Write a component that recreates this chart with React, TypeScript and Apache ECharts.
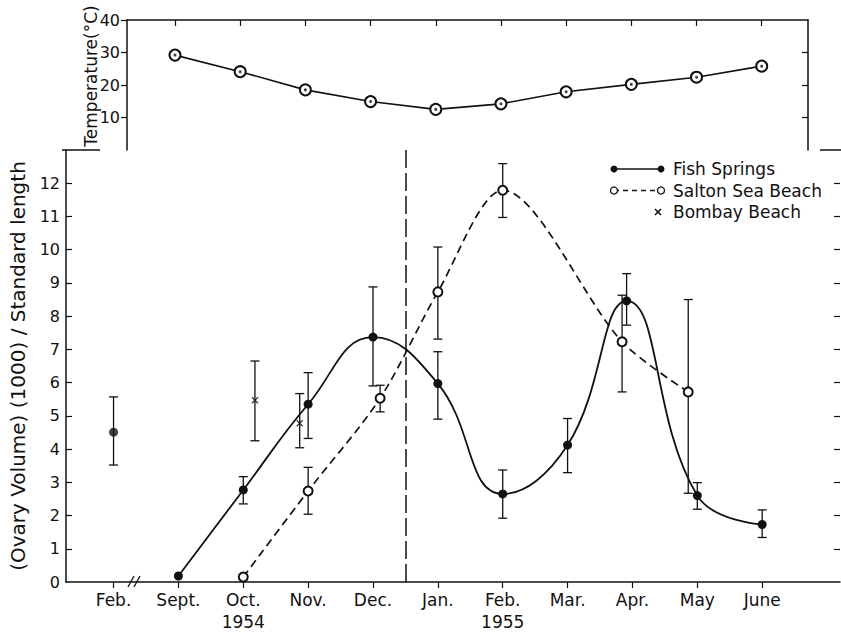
import React, { useEffect, useRef } from "react";
import * as echarts from "echarts";

// ---- data ----
const monthLabels = ["Feb.", "Sept.", "Oct.", "Nov.", "Dec.", "Jan.", "Feb.", "Mar.", "Apr.", "May", "June"];
const yearLabels = ["", "", "1954", "", "", "", "1955", "", "", "", ""];
const monthTicks = [0, 1, 2, 3, 4, 5, 6, 7, 8, 9, 10];

const tempX = [1, 2, 3, 4, 5, 6, 7, 8, 9, 10];
const tempY = [29.2, 24.1, 18.5, 14.9, 12.5, 14.2, 17.9, 20.2, 22.4, 25.8];
const tempTicks = [10, 20, 30, 40];

// Fish Springs (first point, Feb 1954, is isolated)
const fishX = [0, 1, 2, 3, 4, 5, 6, 7, 7.91, 9, 10];
const fishY = [4.51, 0.18, 2.77, 5.35, 7.37, 5.97, 2.65, 4.12, 8.46, 2.6, 1.73];
const fishLow = [3.52, null, 2.35, 4.32, 5.9, 4.9, 1.92, 3.29, 7.73, 2.19, 1.34];
const fishHigh = [5.57, null, 3.17, 6.3, 8.88, 6.93, 3.37, 4.92, 9.28, 2.99, 2.17];

// Salton Sea Beach
const salX = [2, 3, 4.11, 5, 6, 7.84, 8.86];
const salY = [0.15, 2.74, 5.53, 8.73, 11.79, 7.23, 5.72];
const salLow = [null, 2.04, 5.12, 7.31, 10.97, 5.72, 2.67];
const salHigh = [null, 3.45, 5.92, 10.08, 12.59, 8.63, 8.5];

// Bombay Beach
const bombX = [2.18, 2.87];
const bombY = [5.47, 4.78];
const bombLow = [4.25, 4.04];
const bombHigh = [6.65, 5.67];

const yTicks = [1, 2, 3, 4, 5, 6, 7, 8, 9, 10, 11, 12];
const yLabels = [0, 1, 2, 3, 4, 5, 6, 7, 8, 9, 10, 11, 12];
const dividerX = 4.5;

const FONT = "DejaVu Sans";
const INK = "#111";

function zip(xs: number[], ys: number[]) {
  return xs.map((x, i) => [x, ys[i]]);
}
function bars(xs: number[], lo: (number | null)[], hi: (number | null)[]) {
  const out: number[][] = [];
  xs.forEach((x, i) => {
    if (lo[i] != null && hi[i] != null) out.push([x, lo[i] as number, hi[i] as number]);
  });
  return out;
}

const X_SYMBOL = "path://M0,1.4L1.4,0L5,3.6L8.6,0L10,1.4L6.4,5L10,8.6L8.6,10L5,6.4L1.4,10L0,8.6L3.6,5Z";

export default function App() {
  const ref = useRef<HTMLDivElement>(null);
  useEffect(() => {
    document.body.style.margin = "0";
    const chart = echarts.init(ref.current!, null, { renderer: "svg" });
    const errData = [
      ...bars(fishX, fishLow, fishHigh),
      ...bars(salX, salLow, salHigh),
      ...bars(bombX, bombLow, bombHigh),
    ];
    const option: any = {
      animation: false,
      backgroundColor: "#fff",
      textStyle: { fontFamily: FONT, color: INK },
      grid: [
        { left: 127, right: 33, top: 20, bottom: 484 },
        { left: 62, right: 1, top: 150, bottom: 52 },
      ],
      xAxis: [
        {
          gridIndex: 0,
          type: "value",
          min: 0.264,
          max: 10.71,
          position: "top",
          axisLine: { show: true, onZero: false, lineStyle: { color: INK, width: 1.5 } },
          axisTick: { show: true, inside: true, length: 6, customValues: tempX, lineStyle: { color: INK, width: 1.2 } },
          axisLabel: { show: false },
          splitLine: { show: false },
        },
        {
          gridIndex: 1,
          type: "value",
          min: -0.733,
          max: 11.2,
          position: "bottom",
          axisLine: { show: true, onZero: false, lineStyle: { color: INK, width: 1.5 } },
          axisTick: { show: true, inside: false, length: 6, customValues: monthTicks, lineStyle: { color: INK, width: 1.2 } },
          axisLabel: {
            show: true,
            customValues: monthTicks,
            formatter: (v: number) => {
              const i = Math.round(v);
              return monthLabels[i] + (yearLabels[i] ? "\n" + yearLabels[i] : "");
            },
            fontSize: 17,
            lineHeight: 22,
            margin: 7,
            color: INK,
            fontFamily: FONT,
          },
          splitLine: { show: false },
        },
      ],
      yAxis: [
        {
          gridIndex: 0,
          type: "value",
          min: 0,
          max: 40,
          interval: 10,
          axisLine: { show: true, onZero: false, lineStyle: { color: INK, width: 1.5 } },
          axisTick: { show: true, inside: false, length: 6, customValues: tempTicks, lineStyle: { color: INK, width: 1.2 } },
          axisLabel: { show: true, customValues: tempTicks, fontSize: 16, margin: 7, color: INK, fontFamily: FONT },
          splitLine: { show: false },
        },
        {
          gridIndex: 0,
          type: "value",
          position: "right",
          min: 0,
          max: 40,
          interval: 10,
          axisLine: { show: true, onZero: false, lineStyle: { color: INK, width: 1.5 } },
          axisTick: { show: true, inside: true, length: 6, customValues: [10, 20, 30], lineStyle: { color: INK, width: 1.2 } },
          axisLabel: { show: false },
          splitLine: { show: false },
        },
        {
          gridIndex: 1,
          type: "value",
          min: 0,
          max: 13,
          interval: 1,
          name: "(Ovary Volume) (1000) / Standard length",
          nameLocation: "middle",
          nameGap: 38,
          nameTextStyle: { fontSize: 20, color: INK, fontFamily: FONT },
          axisLine: { show: true, onZero: false, lineStyle: { color: INK, width: 1.5 } },
          axisTick: { show: true, inside: true, length: 6, customValues: yTicks, lineStyle: { color: INK, width: 1.2 } },
          axisLabel: { show: true, customValues: yLabels, fontSize: 16, margin: 6, color: INK, fontFamily: FONT },
          splitLine: { show: false },
        },
        {
          gridIndex: 1,
          type: "value",
          position: "right",
          min: 0,
          max: 13,
          interval: 1,
          axisLine: { show: false, onZero: false },
          axisTick: { show: true, inside: true, length: 6, customValues: yTicks, lineStyle: { color: INK, width: 1.2 } },
          axisLabel: { show: false },
          splitLine: { show: false },
        },
      ],
      series: [
        {
          type: "line",
          xAxisIndex: 0,
          yAxisIndex: 0,
          data: zip(tempX, tempY),
          symbol: "emptyCircle",
          symbolSize: 11,
          lineStyle: { color: INK, width: 1.6 },
          itemStyle: { color: INK, borderColor: INK, borderWidth: 1.6 },
          z: 3,
        },
        {
          type: "scatter",
          xAxisIndex: 0,
          yAxisIndex: 0,
          data: zip(tempX, tempY),
          symbol: "circle",
          symbolSize: 3,
          itemStyle: { color: INK },
          z: 4,
        },
        {
          type: "custom",
          xAxisIndex: 1,
          yAxisIndex: 2,
          data: errData,
          encode: { x: 0, y: [1, 2] },
          renderItem: (params: any, api: any) => {
            const x = api.value(0);
            const lo = api.coord([x, api.value(1)]);
            const hi = api.coord([x, api.value(2)]);
            const w = 4.5;
            const st = { stroke: INK, lineWidth: 1.3 };
            return {
              type: "group",
              children: [
                { type: "line", shape: { x1: lo[0], y1: lo[1], x2: hi[0], y2: hi[1] }, style: st },
                { type: "line", shape: { x1: lo[0] - w, y1: lo[1], x2: lo[0] + w, y2: lo[1] }, style: st },
                { type: "line", shape: { x1: hi[0] - w, y1: hi[1], x2: hi[0] + w, y2: hi[1] }, style: st },
              ],
            };
          },
          z: 2,
        },
        {
          name: "Fish Springs",
          type: "line",
          xAxisIndex: 1,
          yAxisIndex: 2,
          data: zip(fishX.slice(1), fishY.slice(1)),
          smooth: 0.45,
          symbol: "circle",
          symbolSize: 9,
          lineStyle: { color: INK, width: 1.8 },
          itemStyle: { color: INK },
          z: 3,
          markLine: {
            silent: true,
            symbol: ["none", "none"],
            label: { show: false },
            lineStyle: { color: INK, width: 1.5, type: [18, 5] },
            data: [{ xAxis: dividerX }],
          },
        },
        {
          type: "scatter",
          xAxisIndex: 1,
          yAxisIndex: 2,
          data: [[fishX[0], fishY[0]]],
          symbol: "circle",
          symbolSize: 9,
          itemStyle: { color: INK },
          z: 3,
        },
        {
          name: "Salton Sea Beach",
          type: "line",
          xAxisIndex: 1,
          yAxisIndex: 2,
          data: zip(salX, salY),
          smooth: 0.3,
          symbol: "emptyCircle",
          symbolSize: 9,
          lineStyle: { color: INK, width: 1.7, type: [8, 5] },
          itemStyle: { color: INK, borderColor: INK, borderWidth: 1.3 },
          z: 4,
        },
        {
          name: "Bombay Beach",
          type: "scatter",
          xAxisIndex: 1,
          yAxisIndex: 2,
          data: zip(bombX, bombY),
          symbol: X_SYMBOL,
          symbolSize: 7,
          itemStyle: { color: INK },
          z: 4,
        },
      ],
      graphic: [
        // temperature axis title
        {
          type: "text",
          x: 91,
          y: 76,
          rotation: Math.PI / 2,
          style: { text: "Temperature(°C)", font: `17px "${FONT}"`, fill: INK, align: "center", verticalAlign: "middle" },
        },
        // frame fragments
        { type: "line", shape: { x1: 62, y1: 150, x2: 100, y2: 150 }, style: { stroke: INK, lineWidth: 1.5 } },
        { type: "line", shape: { x1: 820, y1: 150, x2: 841, y2: 150 }, style: { stroke: INK, lineWidth: 1.5 } },
        // axis break
        { type: "line", shape: { x1: 128, y1: 587, x2: 134, y2: 576 }, style: { stroke: INK, lineWidth: 1.3 } },
        { type: "line", shape: { x1: 134, y1: 587, x2: 140, y2: 576 }, style: { stroke: INK, lineWidth: 1.3 } },
        // legend
        { type: "line", shape: { x1: 614, y1: 169, x2: 661, y2: 169 }, style: { stroke: INK, lineWidth: 1.5 } },
        { type: "circle", shape: { cx: 614, cy: 169, r: 3.5 }, style: { fill: INK } },
        { type: "circle", shape: { cx: 661, cy: 169, r: 3.5 }, style: { fill: INK } },
        {
          type: "text",
          x: 673,
          y: 169,
          style: { text: "Fish Springs", font: `17px "${FONT}"`, fill: INK, verticalAlign: "middle" },
        },
        { type: "line", shape: { x1: 614, y1: 190.5, x2: 661, y2: 190.5 }, style: { stroke: INK, lineWidth: 1.5, lineDash: [5, 4] } },
        { type: "circle", shape: { cx: 614, cy: 190.5, r: 3.5 }, style: { fill: "#fff", stroke: INK, lineWidth: 1.3 } },
        { type: "circle", shape: { cx: 661, cy: 190.5, r: 3.5 }, style: { fill: "#fff", stroke: INK, lineWidth: 1.3 } },
        {
          type: "text",
          x: 673,
          y: 190.5,
          style: { text: "Salton Sea Beach", font: `17px "${FONT}"`, fill: INK, verticalAlign: "middle" },
        },
        { type: "line", shape: { x1: 655, y1: 209, x2: 661, y2: 215 }, style: { stroke: INK, lineWidth: 1.6 } },
        { type: "line", shape: { x1: 661, y1: 209, x2: 655, y2: 215 }, style: { stroke: INK, lineWidth: 1.6 } },
        {
          type: "text",
          x: 673,
          y: 211.5,
          style: { text: "Bombay Beach", font: `17px "${FONT}"`, fill: INK, verticalAlign: "middle" },
        },
      ],
    };
    chart.setOption(option);
    return () => chart.dispose();
  }, []);
  return <div ref={ref} style={{ width: 841, height: 634 }} />;
}
